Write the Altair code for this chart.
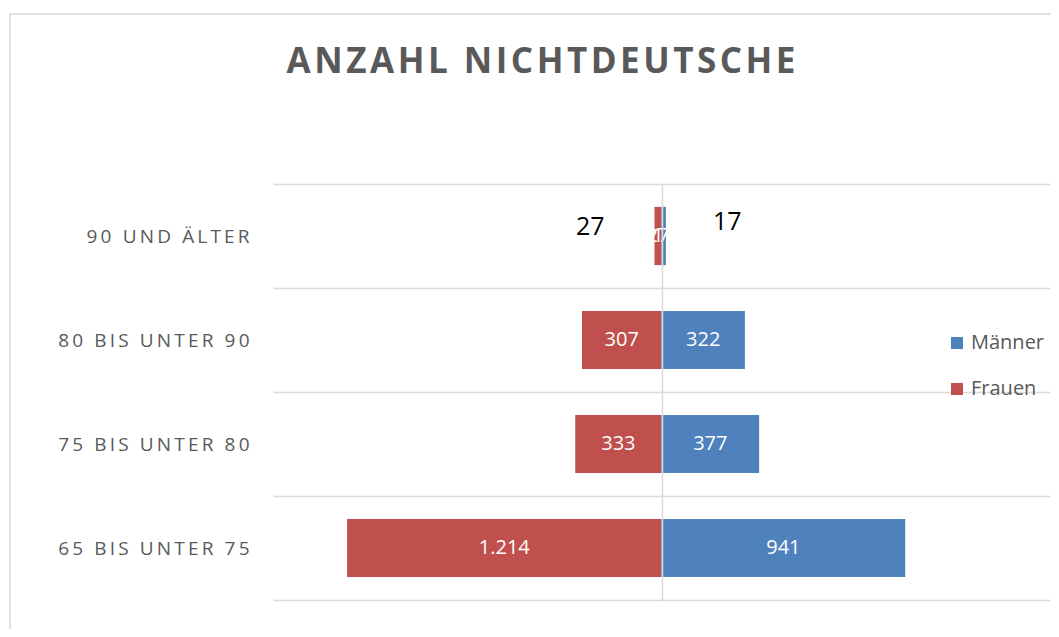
import altair as alt
import pandas as pd

# ---- data ----
ages = ["90 UND ÄLTER", "80 BIS UNTER 90", "75 BIS UNTER 80", "65 BIS UNTER 75"]
frauen = [27, 307, 333, 1214]
maenner = [17, 322, 377, 941]
series = ["Männer", "Frauen"]
colors = ["#4F81BD", "#C0504D"]
title_text = "ANZAHL NICHTDEUTSCHE"

rows = []
for a, f, m in zip(ages, frauen, maenner):
    rows.append({"Alter": a, "Geschlecht": "Frauen", "Anzahl": f, "Wert": -f})
    rows.append({"Alter": a, "Geschlecht": "Männer", "Anzahl": m, "Wert": m})
df = pd.DataFrame(rows)

THIN = "\u2009"
HAIR = "\u200a"
spaced_title = HAIR.join(list(title_text))

FONT = "Open Sans"
GREY = "#595959"
GRID = "#d9d9d9"

base = alt.Chart(df).transform_calculate(
    Mitte="datum.Wert / 2",
    Label="replace(format(datum.Anzahl, ','), ',', '.')",
)

y_scale = alt.Scale(paddingInner=0, paddingOuter=0)

y_enc = alt.Y(
    "Alter:N",
    sort=ages,
    title=None,
    scale=y_scale,
    axis=alt.Axis(
        labelExpr="join(split(datum.label, ''), '" + THIN + "')",
        labelFont=FONT,
        labelFontSize=19,
        labelColor=GREY,
        labelPadding=24,
        labelLimit=0,
        ticks=False,
        domain=False,
        grid=True,
        tickBand="extent",
        gridColor=GRID,
        gridWidth=1.5,
    ),
)

x_scale = alt.Scale(domain=[-1500, 1500], nice=False)

bars = base.mark_bar(height=alt.RelativeBandSize(0.56)).encode(
    x=alt.X(
        "Wert:Q",
        scale=x_scale,
        stack=None,
        title=None,
        axis=alt.Axis(
            values=[0],
            grid=True,
            gridColor=GRID,
            gridWidth=1.5,
            labels=False,
            ticks=False,
            domain=False,
            zindex=1,
        ),
    ),
    y=y_enc,
    color=alt.Color(
        "Geschlecht:N",
        scale=alt.Scale(domain=series, range=colors),
        legend=alt.Legend(
            title=None,
            orient="none",
            legendX=674,
            legendY=149,
            symbolType="square",
            symbolSize=144,
            symbolStrokeWidth=0,
            labelFont=FONT,
            labelFontSize=20,
            labelColor=GREY,
            labelOffset=4,
            labelLimit=0,
            rowPadding=26,
            padding=0,
        ),
    ),
)

inner = base.mark_text(
    color="white", font=FONT, fontSize=20, align="center", baseline="middle"
).encode(
    x=alt.X("Mitte:Q", scale=x_scale),
    y=alt.Y("Alter:N", sort=ages, scale=y_scale),
    text="Label:N",
)

outer_f = base.transform_filter(
    (alt.datum.Alter == ages[0]) & (alt.datum.Geschlecht == "Frauen")
).mark_text(
    color="black", font=FONT, fontSize=25, align="right", baseline="middle", dx=-50, dy=-9
).encode(
    x=alt.X("Wert:Q", scale=x_scale),
    y=alt.Y("Alter:N", sort=ages, scale=y_scale),
    text="Label:N",
)

outer_m = base.transform_filter(
    (alt.datum.Alter == ages[0]) & (alt.datum.Geschlecht == "Männer")
).mark_text(
    color="black", font=FONT, fontSize=25, align="left", baseline="middle", dx=47, dy=-14
).encode(
    x=alt.X("Wert:Q", scale=x_scale),
    y=alt.Y("Alter:N", sort=ages, scale=y_scale),
    text="Label:N",
)

frame = alt.Chart(pd.DataFrame({"f": [0]})).mark_rect(
    filled=False, stroke=GRID, strokeWidth=1.5
).encode(
    x=alt.value(-263), x2=alt.value(830), y=alt.value(-170), y2=alt.value(470)
)

chart = alt.layer(frame, bars, inner, outer_f, outer_m).properties(
    width=777,
    height=416,
    autosize=alt.AutoSizeParams(type="none"),
    padding={"left": 265, "top": 176, "right": 1, "bottom": 29},
    title=alt.TitleParams(
        text=spaced_title,
        font=FONT,
        fontSize=35,
        fontWeight="bold",
        color=GREY,
        anchor="middle",
        frame="group",
        dx=-120.5,
        baseline="alphabetic",
        offset=-95,
    ),
).configure_view(strokeWidth=0)

chart.save("out.html", embed_options={"renderer": "svg", "actions": False})
